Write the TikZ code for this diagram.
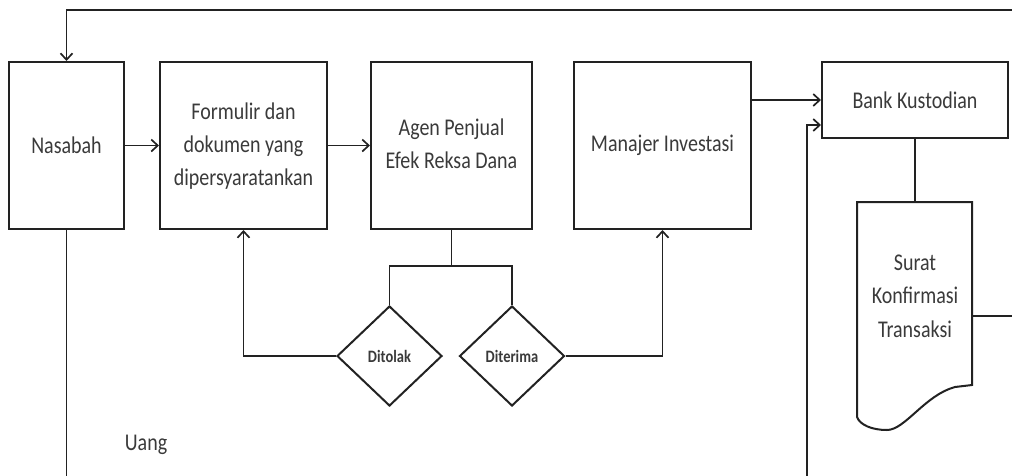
\documentclass[tikz,border=0pt]{standalone}
\usepackage{fontspec}
\setmainfont{Carlito}
\usetikzlibrary{arrows.meta,shapes.geometric}
\definecolor{txt}{HTML}{3A3A3A}
\definecolor{ln}{HTML}{222222}
\newcommand{\vs}[1]{\scalebox{1}[1.2]{#1}}
\tikzset{
  box/.style={draw=ln, line width=2pt, rectangle, inner sep=0pt, text=txt, align=center,
    font=\fontsize{20}{27.5}\selectfont},
  dec/.style={draw=ln, line width=2pt, diamond, inner sep=0pt, minimum width=105pt,
    minimum height=100pt, text=txt, font=\fontsize{14.5}{16}\selectfont\bfseries},
  con/.style={draw=ln, line width=1.9pt},
  arr/.style={con, -{Straight Barb[length=6.5pt,width=12pt,line width=1.7pt]}},
  lbl/.style={text=txt, font=\fontsize{20}{24}\selectfont, inner sep=0pt}
}
\begin{document}
\begin{tikzpicture}[x=1pt,y=-1pt]
\useasboundingbox (0,0) rectangle (1012,475);
\node[box, minimum width=115pt, minimum height=167pt] (nas) at (66.5,145.5) {\vs{Nasabah}};
\node[box, minimum width=167pt, minimum height=167pt] (form) at (243.5,145.5)
  {\vs{\begin{tabular}{@{}c@{}}Formulir dan\\dokumen yang\\dipersyaratankan\end{tabular}}};
\node[box, minimum width=161pt, minimum height=167pt] (agen) at (451.5,145.5)
  {\vs{\begin{tabular}{@{}c@{}}Agen Penjual\\Efek Reksa Dana\end{tabular}}};
\node[box, minimum width=177pt, minimum height=167pt] (man) at (662.5,145.5) {\vs{Manajer Investasi}};
\node[box, minimum width=186pt, minimum height=76pt] (bank) at (915,100) {\vs{Bank Kustodian}};
\node[dec] (tol) at (389.5,356) {\vs{Ditolak}};
\node[dec] (ter) at (512,356) {\vs{Diterima}};
% document shape
\draw[con, line width=2pt] (857,202) -- (972,202) -- (972,385) -- (955,387)
  .. controls (925,395) and (905,430) .. (887,430)
  .. controls (872,430) and (860,425) .. (857,417) -- cycle;
\coordinate (doctop) at (915,202);
\coordinate (docright) at (972,316);
\node[lbl, align=center, font=\fontsize{20}{28}\selectfont] (doc) at (915,297)
  {\vs{\begin{tabular}{@{}c@{}}Surat\\Konfirmasi\\Transaksi\end{tabular}}};
\node[lbl] (uang) at (146,445) {\vs{Uang}};
% connectors
\coordinate (tr) at (1012,10);
\coordinate (nb) at (66.5,476);
\coordinate (vb) at (807,476);
\coordinate (dr) at (1012,316);
\coordinate (j) at (451.5,266);
\draw[arr] (tr) -| (nas.north);
\draw[con] (nas.south) -- (nb);
\draw[arr] (nas.east) -- (form.west);
\draw[arr] (form.east) -- (agen.west);
\draw[con] (agen.south) -- (j);
\draw[con] (tol.north) |- (j) -| (ter.north);
\draw[arr] (tol.west) -| (form.south);
\draw[arr] (ter.east) -| (man.south);
\draw[arr] (man.east |- bank.west) -- (bank.west);
\draw[arr] (vb) |- ([yshift=-25pt]bank.west);
\draw[con] (bank.south) -- (doctop);
\draw[con] (docright) -- (dr);
\end{tikzpicture}
\end{document}
